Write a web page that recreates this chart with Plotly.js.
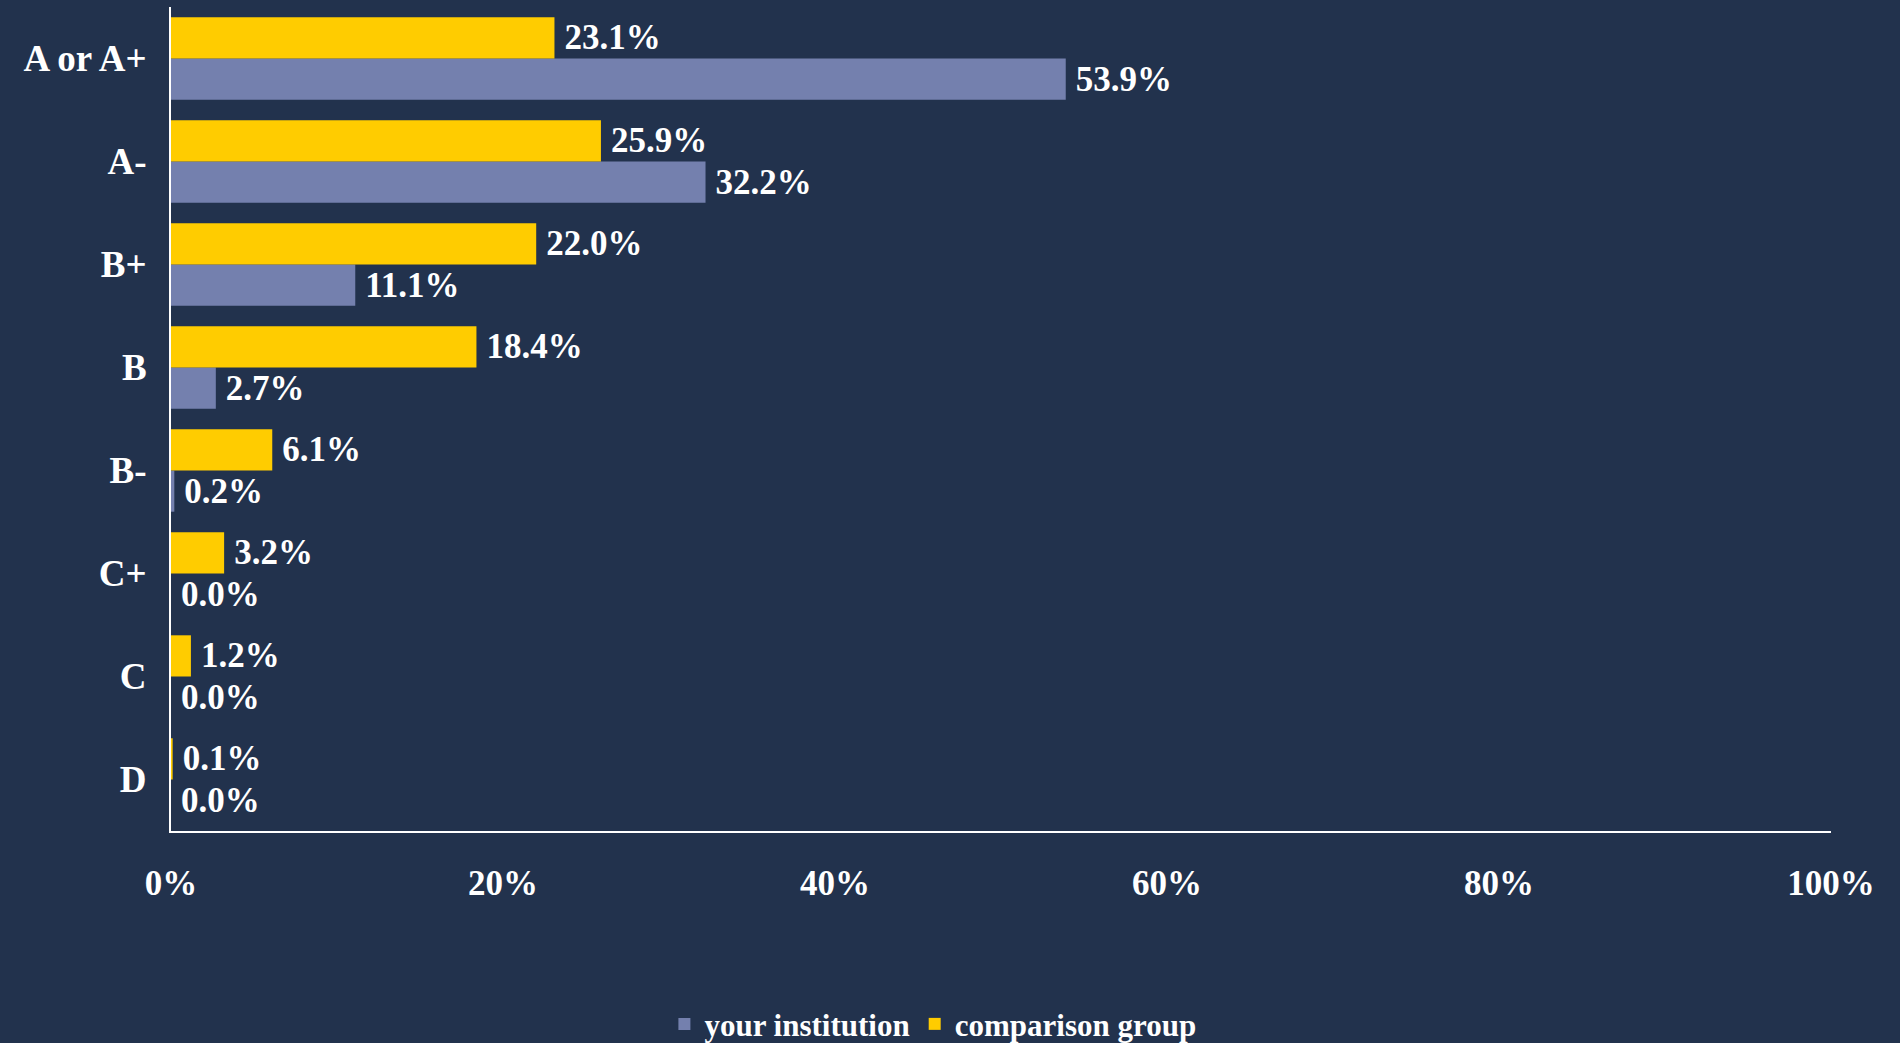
<!DOCTYPE html>
<html>
<head>
<meta charset="utf-8">
<script src="https://cdn.plot.ly/plotly-3.0.1.min.js"></script>
<style>html,body{margin:0;padding:0;background:#22324D;}#chart{width:1900px;height:1043px;}</style>
</head>
<body>
<div id="chart"></div>
<script>
const categories = ["A or A+", "A-", "B+", "B", "B-", "C+", "C", "D"];
const yourInstitution = [0.539, 0.322, 0.111, 0.027, 0.002, 0.000, 0.000, 0.000];
const comparisonGroup = [0.231, 0.259, 0.220, 0.184, 0.061, 0.032, 0.012, 0.001];
const xTickVals = [0, 0.2, 0.4, 0.6, 0.8, 1.0];
const xTickText = ["0%", "20%", "40%", "60%", "80%", "100%"];

const FONT = "'Liberation Serif', 'DejaVu Serif', serif";
const dataFont = {family: FONT, size: 35, color: "#FFFFFF", weight: "bold"};
const xTickFont = {family: FONT, size: 35, color: "#FFFFFF", weight: "bold"};
const yTickFont = {family: FONT, size: 37, color: "#FFFFFF", weight: "bold"};

const fmt = v => "\u2009" + (v * 100).toFixed(1) + "%";

const traces = [
  {
    type: "bar", orientation: "h", name: "your institution",
    y: categories, x: yourInstitution,
    marker: {color: "#7480AE"},
    text: yourInstitution.map(fmt),
    textposition: "outside", cliponaxis: false, constraintext: "none",
    textfont: dataFont, hoverinfo: "skip"
  },
  {
    type: "bar", orientation: "h", name: "comparison group",
    y: categories, x: comparisonGroup,
    marker: {color: "#FFCC00"},
    text: comparisonGroup.map(fmt),
    textposition: "outside", cliponaxis: false, constraintext: "none",
    textfont: dataFont, hoverinfo: "skip"
  }
];

const layout = {
  width: 1900, height: 1043,
  paper_bgcolor: "#22324D", plot_bgcolor: "#22324D",
  margin: {l: 171, r: 69, t: 7, b: 212},
  barmode: "group", bargap: 0.2, bargroupgap: 0,
  font: {family: FONT, color: "#FFFFFF"},
  xaxis: {
    range: [0, 1], tickvals: xTickVals, ticktext: xTickText,
    showgrid: false, zeroline: false, showline: true, linecolor: "#FFFFFF", linewidth: 2,
    ticks: "", ticklabelstandoff: 20,
    tickfont: xTickFont, fixedrange: true
  },
  yaxis: {
    type: "category", categoryorder: "array", categoryarray: categories.slice().reverse(),
    showgrid: false, zeroline: false, showline: true, linecolor: "#FFFFFF", linewidth: 2,
    ticks: "", ticklabelstandoff: 15,
    tickfont: yTickFont, fixedrange: true
  },
  showlegend: true,
  legend: {
    orientation: "h", xref: "container", yref: "container",
    x: 0.491, xanchor: "center", y: 0.018, yanchor: "middle",
    font: {family: FONT, size: 31, color: "#FFFFFF", weight: "bold"},
    bgcolor: "rgba(0,0,0,0)", itemwidth: 30, traceorder: "normal"
  }
};

Plotly.newPlot("chart", traces, layout, {staticPlot: true, displayModeBar: false});
</script>
</body>
</html>
